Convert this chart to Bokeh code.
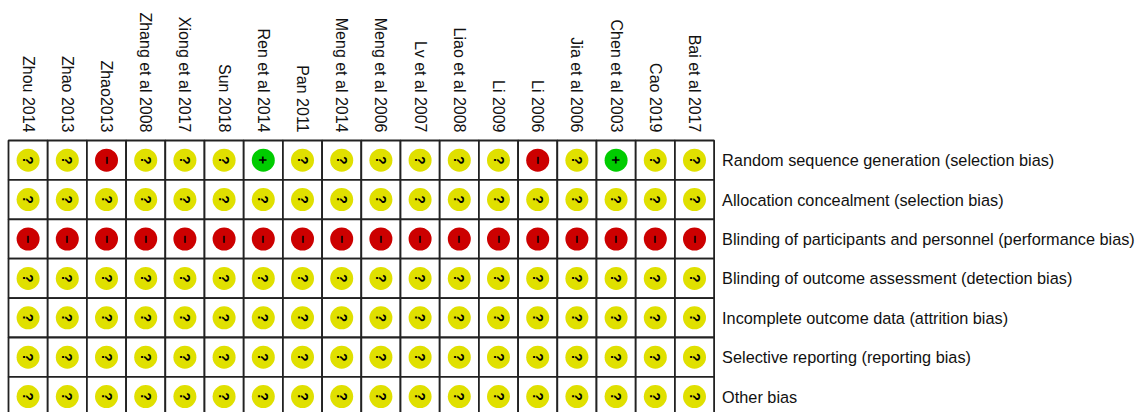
from bokeh.plotting import figure
from bokeh.models import Range1d, ColumnDataSource
from bokeh.core.properties import value
from bokeh.embed import file_html
from bokeh.resources import INLINE
import math

studies = ["Zhou 2014", "Zhao 2013", "Zhao2013", "Zhang et al 2008", "Xiong et al 2017",
           "Sun 2018", "Ren et al 2014", "Pan 2011", "Meng et al 2014", "Meng et al 2006",
           "Lv et al 2007", "Liao et al 2008", "Li 2009", "Li 2006", "Jia et al 2006",
           "Chen et al 2003", "Cao 2019", "Bai et al 2017"]

domains = ["Random sequence generation (selection bias)",
           "Allocation concealment (selection bias)",
           "Blinding of participants and personnel (performance bias)",
           "Blinding of outcome assessment (detection bias)",
           "Incomplete outcome data (attrition bias)",
           "Selective reporting (reporting bias)",
           "Other bias"]

# judgement per domain (rows) x study (columns): "+" low, "?" unclear, "-" high
random_seq = ["?", "?", "-", "?", "?", "?", "+", "?", "?", "?", "?", "?", "?", "-", "?", "+", "?", "?"]
allocation = ["?"] * 18
blinding_part = ["-"] * 18
blinding_outcome = ["?"] * 18
incomplete = ["?"] * 18
selective = ["?"] * 18
other = ["?"] * 18
judgements = [random_seq, allocation, blinding_part, blinding_outcome, incomplete, selective, other]

colors = {"+": "#00cc00", "?": "#e0e000", "-": "#cc0000"}
symbols = {"+": "+", "?": "?", "-": "\u2212"}

W, H = 1140, 412
colw, rowh = 39.2, 39.4
grid_left_px, grid_top_px = 8, 140

p = figure(width=W, height=H, output_backend="svg", toolbar_location=None,
           x_range=Range1d(-grid_left_px / colw, (W - grid_left_px) / colw),
           y_range=Range1d((H - grid_top_px) / rowh, -grid_top_px / rowh),
           min_border=0)
p.axis.visible = False
p.grid.visible = False
p.outline_line_color = None
p.background_fill_color = "white"

xs, ys, cs, ss = [], [], [], []
for r, row in enumerate(judgements):
    for c, j in enumerate(row):
        xs.append(c + 0.5)
        ys.append(r + 0.5)
        cs.append(colors[j])
        ss.append(symbols[j])
src = ColumnDataSource(dict(x=xs, y=ys, c=cs, s=ss))

p.rect(x="x", y="y", width=1, height=1, source=src, fill_color="white",
       line_color="#222222", line_width=1.8)
p.scatter(x="x", y="y", size=23, fill_color="c", line_color=None, source=src)
p.text(x="x", y="y", text="s", source=src, angle=-math.pi / 2,
       text_align="center", text_baseline="middle", text_font=value("Liberation Sans"),
       text_font_size="14px", text_font_style="bold", text_color="black")

# study labels (rotated)
p.text(x=[i + 0.5 for i in range(len(studies))], y=[0] * len(studies), text=studies,
       angle=-math.pi / 2, text_align="right", text_baseline="middle", y_offset=-8,
       text_font=value("Liberation Sans"), text_font_size="16px", text_color="#111111")

# domain labels
p.text(x=[len(studies)] * len(domains), y=[r + 0.5 for r in range(len(domains))], text=domains,
       text_align="left", text_baseline="middle", x_offset=8,
       text_font=value("Liberation Sans"), text_font_size="16.3px", text_color="#111111")

open("out.html", "w").write(file_html(p, INLINE))
